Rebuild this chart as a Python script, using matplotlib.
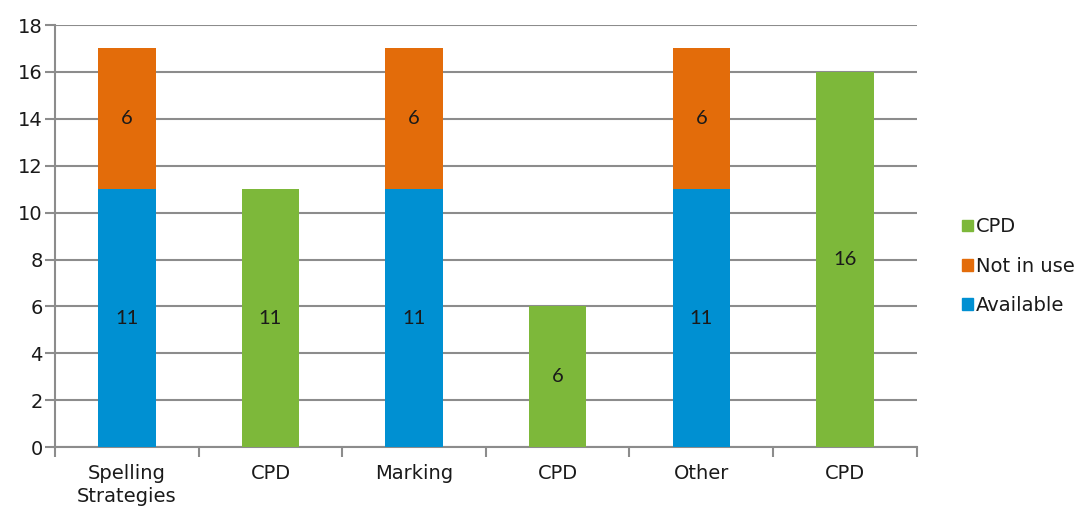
import matplotlib
matplotlib.use("Agg")
import matplotlib.pyplot as plt
import numpy as np
from matplotlib.patches import Patch

categories = ["Spelling\nStrategies", "CPD", "Marking", "CPD", "Other", "CPD"]
available = [11, 0, 11, 0, 11, 0]
not_in_use = [6, 0, 6, 0, 6, 0]
cpd = [0, 11, 0, 6, 0, 16]

c_avail = "#0090D2"
c_notuse = "#E36C0A"
c_cpd = "#7DB83A"
grid_c = "#8C8C8C"
txt_c = "#1a1a1a"

plt.rcParams['font.family'] = ['DejaVu Sans']

fig = plt.figure(figsize=(10.9, 5.11), dpi=100)
ax = fig.add_axes([0.0505, 0.125, 0.7905, 0.826])

x = np.arange(len(categories))
w = 0.4
ax.bar(x, available, w, color=c_avail, zorder=3)
ax.bar(x, not_in_use, w, bottom=available, color=c_notuse, zorder=3)
bottom3 = [a + b for a, b in zip(available, not_in_use)]
ax.bar(x, cpd, w, bottom=bottom3, color=c_cpd, zorder=3)

lab_kw = dict(ha="center", va="center", fontsize=14.5, family="Lato", color=txt_c, zorder=4)
for xi, (a, n, c, bt) in enumerate(zip(available, not_in_use, cpd, bottom3)):
    if a:
        ax.text(xi, a / 2, str(a), **lab_kw)
    if n:
        ax.text(xi, a + n / 2, str(n), **lab_kw)
    if c:
        ax.text(xi, bt + c / 2, str(c), **lab_kw)

ax.set_xlim(-0.5, 5.5)
ax.set_ylim(0, 18)
ax.set_yticks(range(0, 19, 2))
ax.yaxis.grid(True, color=grid_c, linewidth=1.5, zorder=0)
ax.set_axisbelow(True)

ax.set_xticks(x)
ax.set_xticklabels(categories, fontsize=14, linespacing=1.3, color=txt_c)
ax.set_xticks(np.arange(-0.5, 6.0, 1.0), minor=True)
ax.tick_params(axis="x", which="major", length=0, pad=12)
ax.tick_params(axis="x", which="minor", length=7, width=1.5, color=grid_c, direction="out")
ax.tick_params(axis="y", length=7, width=1.5, color=grid_c, labelsize=14, labelcolor=txt_c, pad=2)

for s in ["top", "right"]:
    ax.spines[s].set_visible(False)
for s in ["left", "bottom"]:
    ax.spines[s].set_color(grid_c)
    ax.spines[s].set_linewidth(1.5)

handles = [Patch(color=c_cpd), Patch(color=c_notuse), Patch(color=c_avail)]
labels = ["CPD", "Not in use", "Available"]
leg = fig.legend(handles, labels, loc="center left", bbox_to_anchor=(0.883, 0.479),
                 frameon=False, fontsize=14, handlelength=0.55, handleheight=0.55,
                 handletextpad=0.15, labelspacing=1.05, borderaxespad=0, borderpad=0)
for t in leg.get_texts():
    t.set_color(txt_c)

fig.savefig("out.png", dpi=100)
